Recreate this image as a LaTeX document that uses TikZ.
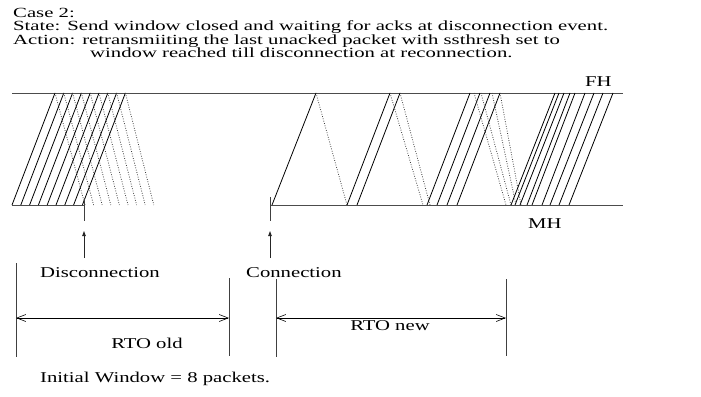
\documentclass[tikz,border=0pt]{standalone}
\usepackage{fontspec}
\usepackage{graphicx}
\setmainfont{Liberation Serif}
\usetikzlibrary{arrows.meta}
\newcommand\wtext[1]{\scalebox{1.38}[1]{#1}}
\newcommand\htext[1]{\scalebox{1.48}[1]{#1}}
\begin{document}
\begin{tikzpicture}[x=1pt,y=-1pt,
  lbl/.style={inner sep=0pt,font=\fontsize{15}{15}\selectfont},
  hdr/.style={inner sep=0pt,anchor=base west,font=\fontsize{14}{14}\selectfont},
  host/.style={draw=black!70,line width=0.9pt},
  pkt/.style={draw=black,line width=0.8pt},
  ack/.style={draw=black!75,line width=0.8pt,dash pattern=on 0.8pt off 1.6pt},
  tickline/.style={draw=black!75,line width=0.9pt},
  evt/.style={draw=black!85,line width=0.8pt,-{Triangle[length=5pt,width=3.5pt]}},
  timespan/.style={draw=black,line width=0.6pt,{Straight Barb[length=9pt,width=7pt]}-{Straight Barb[length=9pt,width=7pt]}}]
\useasboundingbox (0,0) rectangle (701,396);

% header
\node[hdr] (case)    at (13,18) {\htext{Case 2:}};
\node[hdr] (state)   at (13,31) {\htext{State: Send window closed and waiting for acks at disconnection event.}};
\node[hdr] (action)  at (13,45) {\htext{Action: retransmiiting the last unacked packet with ssthresh set to}};
\node[hdr] (action2) at (90,58) {\htext{window reached till disconnection at reconnection.}};

% host time lines
\coordinate (fhL) at (12,93);   \coordinate (fhR) at (623,93);
\coordinate (mh1L) at (12,205); \coordinate (mh1R) at (84,205);
\coordinate (mh2L) at (270,205); \coordinate (mh2R) at (623,205);
\draw[host] (fhL) -- (fhR);
\draw[host] (mh1L) -- (mh1R);
\draw[host] (mh2L) -- (mh2R);
\node[lbl,anchor=base west] (fh) at (585,86) {\wtext{FH}};
\node[lbl,anchor=base west] (mh) at (528,228) {\wtext{MH}};

% before disconnection: full window and its acks
\foreach \i in {0,...,8}{
  \draw[pkt] ({12+8.8*\i},205) -- ({55+8.8*\i},93);
  \draw[ack] ({55+8.8*\i},93) -- ({85+8.6*\i},205);
}

% after reconnection: slow start
\draw[pkt] (272,205) -- (316,93);
\draw[ack] (316,93) -- (347,205);
\foreach \b/\t in {347/390,357/400}{\draw[pkt] (\b,205) -- (\t,93);}
\foreach \t/\b in {390/423,400/430}{\draw[ack] (\t,93) -- (\b,205);}
\foreach \b/\t in {427/470,437/480,447/490,457/500}{\draw[pkt] (\b,205) -- (\t,93);}
\foreach \t/\b in {474/506,481/511,492/516,500/521}{\draw[ack] (\t,93) -- (\b,205);}
\foreach \b/\t in {511/555,515/559,520/564,527/570,532/575,542/585,550/594,559/603,569/613}{\draw[pkt] (\b,205) -- (\t,93);}

% events
\coordinate (dtickT) at (84,198); \coordinate (dtickB) at (84,221);
\coordinate (ctickT) at (270,197); \coordinate (ctickB) at (270,221);
\draw[tickline] (dtickT) -- (dtickB);
\draw[tickline] (ctickT) -- (ctickB);
\coordinate (darrT) at (84,231); \coordinate (darrB) at (84,258);
\coordinate (carrT) at (270,231); \coordinate (carrB) at (270,258);
\draw[evt] (darrB) -- (darrT);
\draw[evt] (carrB) -- (carrT);
\node[lbl,anchor=base west] (disc) at (40,277) {\wtext{Disconnection}};
\node[lbl,anchor=base west] (conn) at (246,277) {\wtext{Connection}};

% timers
\coordinate (o1T) at (16,263);  \coordinate (o1B) at (16,357);
\coordinate (o2T) at (229,278); \coordinate (o2B) at (229,356);
\coordinate (n1T) at (276,279); \coordinate (n1B) at (276,357);
\coordinate (n2T) at (506,279); \coordinate (n2B) at (506,356);
\foreach \p in {o1,o2,n1,n2}{\draw[tickline] (\p T) -- (\p B);}
\coordinate (o1M) at (16,318);  \coordinate (o2M) at (229,318);
\coordinate (n1M) at (276,318); \coordinate (n2M) at (506,318);
\draw[timespan] (o1M) -- (o2M);
\draw[timespan] (n1M) -- (n2M);
\node[lbl,anchor=base] (rtoold) at (147,348) {\wtext{RTO old}};
\node[lbl,anchor=base] (rtonew) at (390,330) {\wtext{RTO new}};

\node[lbl,anchor=base west] (iw) at (40,382) {\wtext{Initial Window = 8 packets.}};
\end{tikzpicture}
\end{document}
